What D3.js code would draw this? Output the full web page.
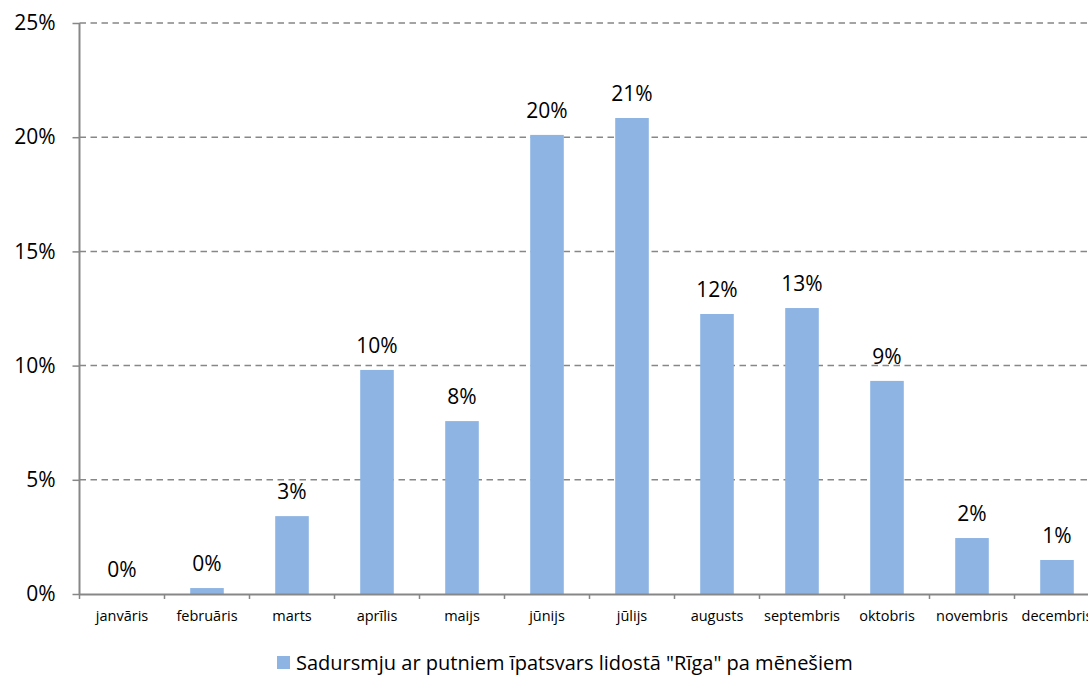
<!DOCTYPE html>
<html>
<head>
<meta charset="utf-8">
<script src="https://cdn.jsdelivr.net/npm/d3@7"></script>
<style>
  html, body { margin: 0; padding: 0; background: #fff; }
  svg { display: block; font-family: "Open Sans", "DejaVu Sans", sans-serif; }
</style>
</head>
<body>
<svg id="chart" width="1088" height="675"></svg>
<script>
// Months (Latvian) and the share of bird strikes at Riga airport per month, in %
const months = ["janvāris", "februāris", "marts", "aprīlis", "maijs", "jūnijs",
                "jūlijs", "augusts", "septembris", "oktobris", "novembris", "decembris"];
const shares = [0, 0.26, 3.41, 9.81, 7.57, 20.1, 20.84, 12.26, 12.52, 9.33, 2.45, 1.49];
const yTicks = [0, 5, 10, 15, 20, 25];
const seriesName = "Sadursmju ar putniem īpatsvars lidostā \"Rīga\" pa mēnešiem";

(function () {
const svg = d3.select("#chart");
const plotLeft = 79.5, plotRight = 1099.5, plotTop = 23, plotBottom = 594;
const barColor = "#8DB4E2";
const axisColor = "#878787";

const x = d3.scaleBand().domain(months).range([plotLeft, plotRight]).padding(0);
const y = d3.scaleLinear().domain([0, 25]).range([plotBottom, plotTop]);
const barW = x.bandwidth() * 0.395;

// Short ticks left of the value axis with percentage labels
svg.append("g")
  .attr("transform", `translate(${plotLeft},0)`)
  .call(d3.axisLeft(y).tickValues(yTicks).tickSize(7).tickFormat(d => d + "%"))
  .call(g => g.select(".domain").remove())
  .call(g => g.selectAll(".tick line").attr("stroke", axisColor).attr("stroke-width", 1.5))
  .call(g => g.selectAll(".tick text").attr("x", -24).attr("font-size", 21)
             .attr("fill", "#000").attr("font-family", "Open Sans"));

// Dashed horizontal gridlines
svg.append("g")
  .selectAll("line")
  .data(yTicks.filter(d => d > 0))
  .join("line")
  .attr("x1", plotLeft).attr("x2", plotRight)
  .attr("y1", d => y(d)).attr("y2", d => y(d))
  .attr("stroke", axisColor).attr("stroke-width", 1.5)
  .attr("stroke-dasharray", "6.5,4.5");

// Bars
svg.append("g")
  .selectAll("rect")
  .data(shares)
  .join("rect")
  .attr("x", (d, i) => x(months[i]) + (x.bandwidth() - barW) / 2)
  .attr("width", barW)
  .attr("y", d => y(d))
  .attr("height", d => y(0) - y(d))
  .attr("fill", barColor);

// Value labels
svg.append("g")
  .selectAll("text")
  .data(shares)
  .join("text")
  .attr("x", (d, i) => x(months[i]) + x.bandwidth() / 2)
  .attr("y", d => y(d) - 17)
  .attr("text-anchor", "middle")
  .attr("font-size", 21)
  .attr("fill", "#000")
  .text(d => Math.round(d) + "%");

// Category axis with tick marks at band boundaries
const xAxis = svg.append("g")
  .attr("transform", `translate(0,${plotBottom})`)
  .call(d3.axisBottom(x).tickSize(0).tickPadding(17))
  .call(g => g.select(".domain").attr("stroke", axisColor).attr("stroke-width", 2))
  .call(g => g.selectAll(".tick text").attr("font-size", 14.5).attr("fill", "#000")
             .attr("font-family", "Open Sans"));

xAxis.selectAll("line.boundary")
  .data(d3.range(months.length + 1))
  .join("line")
  .attr("class", "boundary")
  .attr("x1", i => plotLeft + i * x.step()).attr("x2", i => plotLeft + i * x.step())
  .attr("y1", 0).attr("y2", 5)
  .attr("stroke", axisColor).attr("stroke-width", 1.5);

// Value axis line
svg.append("line")
  .attr("x1", plotLeft).attr("x2", plotLeft)
  .attr("y1", plotTop).attr("y2", plotBottom)
  .attr("stroke", axisColor).attr("stroke-width", 2);

// Legend
const legend = svg.append("g").attr("transform", "translate(277,656)");
legend.append("rect").attr("width", 13).attr("height", 13).attr("fill", barColor);
legend.append("text")
  .attr("x", 19).attr("y", 13.5)
  .attr("font-size", 20)
  .attr("fill", "#000")
  .text(seriesName);
})();
</script>
</body>
</html>
